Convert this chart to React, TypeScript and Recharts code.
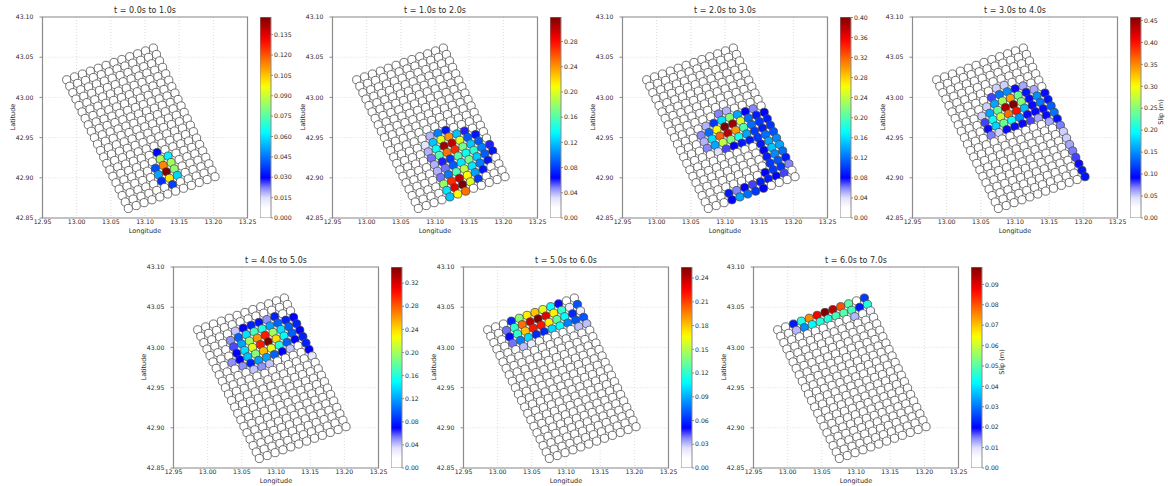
import React from 'react';
import {
  ScatterChart, Scatter, XAxis, YAxis, CartesianGrid, ReferenceArea, BarChart, Bar,
} from 'recharts';

const titles = [
  't = 0.0s to 1.0s', 't = 1.0s to 2.0s', 't = 2.0s to 3.0s', 't = 3.0s to 4.0s',
  't = 4.0s to 5.0s', 't = 5.0s to 6.0s', 't = 6.0s to 7.0s',
];
const lonTicks = [12.95, 13.0, 13.05, 13.1, 13.15, 13.2, 13.25];
const latTicks = [42.85, 42.9, 42.95, 43.0, 43.05, 43.1];

// fault patches: 12 along strike x 21 down dip
const nStrike = 12;
const nDip = 21;
const topLeftPatch = [12.9854, 43.0219];
const strikeStep = [0.011532, 0.003591];
const dipStep = [0.004512, -0.008001];

// slipped patches in each window: [dip row, strike col, slip (m)]
const slip0 = [
  [14, 6, 0.030], [15, 6, 0.086], [15, 7, 0.062], [16, 5, 0.040], [16, 6, 0.113], [16, 7, 0.085],
  [17, 5, 0.052], [17, 6, 0.148], [17, 7, 0.082], [18, 5, 0.036], [18, 6, 0.100], [18, 7, 0.058],
  [19, 6, 0.038],
];
const slip1 = [
  [11, 5, 0.04], [11, 6, 0.10], [11, 7, 0.07],
  [12, 4, 0.03], [12, 5, 0.12], [12, 6, 0.20], [12, 7, 0.24], [12, 8, 0.12], [12, 9, 0.06],
  [13, 4, 0.04], [13, 5, 0.14], [13, 6, 0.31], [13, 7, 0.30], [13, 8, 0.20], [13, 9, 0.09], [13, 10, 0.07],
  [14, 4, 0.05], [14, 5, 0.16], [14, 6, 0.25], [14, 7, 0.27], [14, 8, 0.17], [14, 9, 0.12], [14, 10, 0.09],
  [15, 4, 0.04], [15, 5, 0.06], [15, 6, 0.08], [15, 7, 0.16], [15, 8, 0.14], [15, 9, 0.15], [15, 10, 0.10], [15, 11, 0.06],
  [16, 4, 0.04], [16, 5, 0.05], [16, 6, 0.09], [16, 7, 0.13], [16, 8, 0.17], [16, 9, 0.12], [16, 10, 0.09], [16, 11, 0.07],
  [17, 4, 0.05], [17, 5, 0.10], [17, 6, 0.16], [17, 7, 0.19], [17, 8, 0.13], [17, 9, 0.10], [17, 10, 0.07],
  [18, 4, 0.18], [18, 5, 0.27], [18, 6, 0.30], [18, 7, 0.21], [18, 8, 0.11], [18, 9, 0.07],
  [19, 4, 0.13], [19, 5, 0.29], [19, 6, 0.319], [19, 7, 0.20], [19, 8, 0.08],
  [20, 4, 0.12], [20, 5, 0.21], [20, 6, 0.25],
];
const slip2 = [
  [8, 6, 0.06], [8, 7, 0.05],
  [9, 4, 0.05], [9, 5, 0.10], [9, 6, 0.16], [9, 7, 0.22], [9, 8, 0.14], [9, 9, 0.08], [9, 10, 0.06],
  [10, 3, 0.06], [10, 4, 0.12], [10, 5, 0.26], [10, 6, 0.401], [10, 7, 0.39], [10, 8, 0.25], [10, 9, 0.12], [10, 10, 0.09], [10, 11, 0.08],
  [11, 3, 0.05], [11, 4, 0.16], [11, 5, 0.32], [11, 6, 0.38], [11, 7, 0.30], [11, 8, 0.20], [11, 9, 0.12], [11, 10, 0.10], [11, 11, 0.09],
  [12, 3, 0.06], [12, 4, 0.14], [12, 5, 0.24], [12, 6, 0.22], [12, 7, 0.18], [12, 8, 0.14], [12, 9, 0.10], [12, 10, 0.09], [12, 11, 0.10],
  [13, 4, 0.04], [13, 5, 0.07], [13, 6, 0.08], [13, 7, 0.09], [13, 8, 0.09], [13, 9, 0.10], [13, 10, 0.12], [13, 11, 0.11],
  [14, 9, 0.09], [14, 10, 0.14], [14, 11, 0.13],
  [15, 9, 0.08], [15, 10, 0.15], [15, 11, 0.14],
  [16, 9, 0.09], [16, 10, 0.13], [16, 11, 0.12],
  [17, 9, 0.10], [17, 10, 0.11], [17, 11, 0.09],
  [18, 8, 0.08], [18, 9, 0.10], [18, 10, 0.10], [18, 11, 0.06],
  [19, 3, 0.09], [19, 4, 0.06], [19, 5, 0.08], [19, 6, 0.07], [19, 7, 0.09], [19, 8, 0.09], [19, 9, 0.08], [19, 10, 0.07],
  [20, 3, 0.08], [20, 4, 0.14], [20, 5, 0.12], [20, 6, 0.10], [20, 7, 0.08],
];
const slip3 = [
  [4, 6, 0.05], [4, 7, 0.05],
  [5, 5, 0.08], [5, 6, 0.14], [5, 7, 0.15], [5, 8, 0.09], [5, 9, 0.06],
  [6, 4, 0.05], [6, 5, 0.16], [6, 6, 0.26], [6, 7, 0.34], [6, 8, 0.24], [6, 9, 0.10], [6, 10, 0.06],
  [7, 3, 0.05], [7, 4, 0.16], [7, 5, 0.24], [7, 6, 0.44], [7, 7, 0.458], [7, 8, 0.25], [7, 9, 0.09], [7, 10, 0.15], [7, 11, 0.09],
  [8, 3, 0.08], [8, 4, 0.20], [8, 5, 0.28], [8, 6, 0.36], [8, 7, 0.40], [8, 8, 0.17], [8, 9, 0.09], [8, 10, 0.14], [8, 11, 0.10],
  [9, 3, 0.09], [9, 4, 0.18], [9, 5, 0.24], [9, 6, 0.20], [9, 7, 0.15], [9, 8, 0.09], [9, 9, 0.09], [9, 10, 0.09], [9, 11, 0.13],
  [10, 3, 0.07], [10, 4, 0.05], [10, 5, 0.09], [10, 6, 0.09], [10, 7, 0.09], [10, 8, 0.08], [10, 9, 0.06], [10, 10, 0.09], [10, 11, 0.14],
  [11, 10, 0.06], [11, 11, 0.10], [12, 11, 0.07], [13, 11, 0.05], [14, 11, 0.05], [15, 11, 0.06],
  [16, 11, 0.07], [17, 11, 0.08], [18, 11, 0.09], [19, 11, 0.10], [20, 11, 0.10],
];
const slip4 = [
  [2, 4, 0.04], [2, 5, 0.07], [2, 6, 0.08], [2, 7, 0.075], [2, 8, 0.05], [2, 9, 0.08],
  [3, 3, 0.05], [3, 4, 0.10], [3, 5, 0.14], [3, 6, 0.17], [3, 7, 0.16], [3, 8, 0.12], [3, 9, 0.10], [3, 10, 0.08], [3, 11, 0.07],
  [4, 3, 0.06], [4, 4, 0.12], [4, 5, 0.20], [4, 6, 0.26], [4, 7, 0.30], [4, 8, 0.20], [4, 9, 0.14], [4, 10, 0.10], [4, 11, 0.08],
  [5, 3, 0.07], [5, 4, 0.14], [5, 5, 0.22], [5, 6, 0.30], [5, 7, 0.348], [5, 8, 0.24], [5, 9, 0.15], [5, 10, 0.10], [5, 11, 0.07],
  [6, 2, 0.05], [6, 3, 0.07], [6, 4, 0.13], [6, 5, 0.19], [6, 6, 0.25], [6, 7, 0.22], [6, 8, 0.16], [6, 9, 0.10], [6, 10, 0.07], [6, 11, 0.08],
  [7, 3, 0.05], [7, 4, 0.08], [7, 5, 0.12], [7, 6, 0.12], [7, 7, 0.10], [7, 8, 0.07], [7, 9, 0.04], [7, 11, 0.08],
  [8, 4, 0.04], [8, 5, 0.05], [8, 6, 0.04], [8, 11, 0.07], [9, 11, 0.03],
];
const slip5 = [
  [0, 3, 0.06], [0, 4, 0.14], [0, 5, 0.17], [0, 6, 0.18], [0, 7, 0.16], [0, 8, 0.11], [0, 9, 0.05],
  [1, 2, 0.04], [1, 3, 0.12], [1, 4, 0.20], [1, 5, 0.24], [1, 6, 0.254], [1, 7, 0.23], [1, 8, 0.17], [1, 9, 0.12], [1, 10, 0.02], [1, 11, 0.07],
  [2, 2, 0.05], [2, 3, 0.12], [2, 4, 0.18], [2, 5, 0.22], [2, 6, 0.22], [2, 7, 0.17], [2, 8, 0.13], [2, 9, 0.11], [2, 10, 0.06], [2, 11, 0.02],
  [3, 2, 0.04], [3, 3, 0.08], [3, 4, 0.10], [3, 5, 0.06], [3, 6, 0.06], [3, 7, 0.10], [3, 8, 0.11], [3, 9, 0.08], [3, 10, 0.07], [3, 11, 0.07],
  [4, 3, 0.03], [4, 4, 0.02], [4, 10, 0.03], [4, 11, 0.03],
];
const slip6 = [
  [0, 2, 0.022], [0, 3, 0.045], [0, 4, 0.075], [0, 5, 0.088], [0, 6, 0.0985], [0, 7, 0.093], [0, 8, 0.08], [0, 9, 0.05], [0, 11, 0.025],
  [1, 2, 0.012], [1, 3, 0.032], [1, 4, 0.042], [1, 5, 0.045], [1, 6, 0.045], [1, 7, 0.048], [1, 8, 0.05], [1, 9, 0.048], [1, 10, 0.022], [1, 11, 0.045],
  [2, 9, 0.012], [2, 11, 0.007],
];

const cbarMax = [0.148, 0.319, 0.401, 0.458, 0.348, 0.254, 0.0985];
const cbarTicks0 = [0, 0.015, 0.03, 0.045, 0.06, 0.075, 0.09, 0.105, 0.12, 0.135];
const cbarTicks1 = [0, 0.04, 0.08, 0.12, 0.16, 0.2, 0.24, 0.28];
const cbarTicks2 = [0, 0.04, 0.08, 0.12, 0.16, 0.2, 0.24, 0.28, 0.32, 0.36, 0.4];
const cbarTicks3 = [0, 0.05, 0.1, 0.15, 0.2, 0.25, 0.3, 0.35, 0.4, 0.45];
const cbarTicks4 = [0, 0.04, 0.08, 0.12, 0.16, 0.2, 0.24, 0.28, 0.32];
const cbarTicks5 = [0, 0.03, 0.06, 0.09, 0.12, 0.15, 0.18, 0.21, 0.24];
const cbarTicks6 = [0, 0.01, 0.02, 0.03, 0.04, 0.05, 0.06, 0.07, 0.08, 0.09];

const panels = [
  { slips: slip0, ticks: cbarTicks0, left: 0, top: 0, digits: 3 },
  { slips: slip1, ticks: cbarTicks1, left: 290, top: 0, digits: 2 },
  { slips: slip2, ticks: cbarTicks2, left: 580, top: 0, digits: 2 },
  { slips: slip3, ticks: cbarTicks3, left: 870, top: 0, digits: 2, unit: true },
  { slips: slip4, ticks: cbarTicks4, left: 131, top: 250, digits: 2 },
  { slips: slip5, ticks: cbarTicks5, left: 421, top: 250, digits: 2 },
  { slips: slip6, ticks: cbarTicks6, left: 711, top: 250, digits: 2, unit: true },
];

const FONT = '"DejaVu Sans", sans-serif';
const INK = '#2a2a2a';
const FRAME = '#8c8c8c';

// white -> blue, then jet up to dark red
const lowStops = [
  [0, 1, 1, 1], [0.05, 1, 1, 1], [0.1, 0.88, 0.88, 1], [0.15, 0.52, 0.52, 1], [0.2, 0, 0, 1],
];
const clamp = (v: number) => Math.max(0, Math.min(1, v));
function slipColor(t: number) {
  t = clamp(t);
  let rgb: number[];
  if (t >= 0.2) {
    const j = 0.125 + ((t - 0.2) / 0.8) * 0.875;
    rgb = [
      clamp(Math.min(4 * j - 1.5, -4 * j + 4.5)),
      clamp(Math.min(4 * j - 0.5, -4 * j + 3.5)),
      clamp(Math.min(4 * j + 0.5, -4 * j + 2.5)),
    ];
  } else {
    let k = 0;
    while (k < lowStops.length - 2 && t > lowStops[k + 1][0]) k++;
    const a = lowStops[k];
    const b = lowStops[k + 1];
    const f = (t - a[0]) / (b[0] - a[0]);
    rgb = [1, 2, 3].map((i) => a[i] + (b[i] - a[i]) * f);
  }
  return `rgb(${rgb.map((v) => Math.round(v * 255)).join(',')})`;
}

function patchData(slips: number[][], max: number) {
  const lookup = new Map(slips.map(([r, c, s]) => [`${r}-${c}`, s]));
  const rows = [];
  for (let r = 0; r < nDip; r++) {
    for (let c = 0; c < nStrike; c++) {
      const s = lookup.get(`${r}-${c}`) ?? 0;
      rows.push({
        lon: topLeftPatch[0] + c * strikeStep[0] + r * dipStep[0],
        lat: topLeftPatch[1] + c * strikeStep[1] + r * dipStep[1],
        slip: s,
        color: slipColor(s / max),
      });
    }
  }
  return rows;
}

const Patch = (props: any) => (
  <circle cx={props.cx} cy={props.cy} r={4.1} fill={props.payload.color} stroke="#444" strokeWidth={0.75} />
);

const tickStyle = { fontSize: 6.2, fill: INK, fontFamily: FONT };

const SlipPanel = ({ idx }: { idx: number }) => {
  const p = panels[idx];
  const max = cbarMax[idx];
  const data = patchData(p.slips, max);
  const gradId = `slipbar${idx}`;
  const stops = Array.from({ length: 41 }, (_, i) => i / 40);

  const ColorBar = (props: any) => (
    <g>
      <defs>
        <linearGradient id={gradId} x1="0" y1="1" x2="0" y2="0">
          {stops.map((t) => (
            <stop key={t} offset={t} stopColor={slipColor(t)} />
          ))}
        </linearGradient>
      </defs>
      <rect x={props.x} y={props.y} width={props.width} height={props.height}
        fill={`url(#${gradId})`} stroke={FRAME} strokeWidth={1} />
    </g>
  );

  return (
    <div style={{ position: 'absolute', left: p.left, top: p.top, width: 300, height: 245 }}>
      <div style={{
        position: 'absolute', left: 45, width: 200, top: 6, textAlign: 'center',
        fontFamily: FONT, fontSize: 8, color: INK, lineHeight: '10px',
      }}>
        {titles[idx]}
      </div>
      <div style={{
        position: 'absolute', left: 45, width: 200, top: 227, textAlign: 'center',
        fontFamily: FONT, fontSize: 6.5, color: INK, lineHeight: '8px',
      }}>
        Longitude
      </div>
      <div style={{
        position: 'absolute', left: 13, top: 117, width: 0, height: 0,
      }}>
        <div style={{
          position: 'absolute', transform: 'translate(-50%, -50%) rotate(-90deg)',
          fontFamily: FONT, fontSize: 6.5, color: INK, whiteSpace: 'nowrap', lineHeight: '8px',
        }}>
          Latitude
        </div>
      </div>
      {p.unit && (
        <div style={{ position: 'absolute', left: 291, top: 112, width: 0, height: 0 }}>
          <div style={{
            position: 'absolute', transform: 'translate(-50%, -50%) rotate(-90deg)',
            fontFamily: FONT, fontSize: 6.5, color: INK, whiteSpace: 'nowrap', lineHeight: '8px',
          }}>
            Slip (m)
          </div>
        </div>
      )}
      <div style={{ position: 'absolute', left: 0, top: 0 }}>
        <ScatterChart width={262} height={241} margin={{ top: 17, right: 14.5, bottom: 0, left: 0 }}>
          <CartesianGrid stroke="#c4c4c4" strokeDasharray="1 2" strokeWidth={0.6} />
          <XAxis type="number" dataKey="lon" domain={[12.95, 13.25]} ticks={lonTicks} interval={0}
            tickFormatter={(v: number) => v.toFixed(2)} height={23} tick={tickStyle}
            axisLine={false} tickLine={false} tickSize={1.5} tickMargin={0} allowDataOverflow />
          <YAxis type="number" dataKey="lat" domain={[42.85, 43.1]} ticks={latTicks} interval={0}
            tickFormatter={(v: number) => v.toFixed(2)} width={42.5} tick={tickStyle}
            axisLine={false} tickSize={3} tickLine={{ stroke: FRAME }} tickMargin={6} allowDataOverflow />
          <ReferenceArea x1={12.95} x2={13.25} y1={42.85} y2={43.1} fill="none" stroke={FRAME} strokeWidth={1.2} />
          <Scatter data={data} isAnimationActive={false} shape={Patch} />
        </ScatterChart>
      </div>
      <div style={{ position: 'absolute', left: 259.5, top: 0 }}>
        <BarChart width={42} height={241} data={[{ name: 'slip', v: max }]}
          margin={{ top: 17, right: 0, bottom: 23, left: 0 }} barCategoryGap={0}>
          <XAxis dataKey="name" hide />
          <YAxis orientation="right" domain={[0, max]} ticks={p.ticks} interval={0} width={31}
            tickFormatter={(v: number) => v.toFixed(p.digits)} tick={tickStyle}
            axisLine={false} tickSize={2} tickLine={{ stroke: FRAME }} tickMargin={1} allowDataOverflow />
          <Bar dataKey="v" isAnimationActive={false} shape={ColorBar} />
        </BarChart>
      </div>
    </div>
  );
};

export default function App() {
  return (
    <div style={{ position: 'absolute', left: 0, top: 0, width: 1168, height: 486, background: '#fff', overflow: 'hidden' }}>
      {panels.map((_, i) => (
        <SlipPanel key={i} idx={i} />
      ))}
    </div>
  );
}
